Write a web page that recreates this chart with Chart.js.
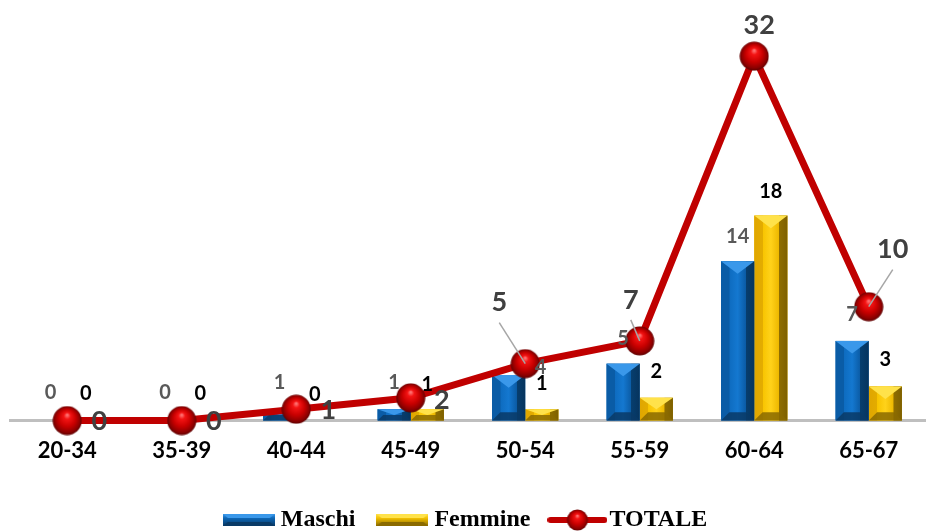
<!DOCTYPE html>
<html><head><meta charset="utf-8">
<script src="https://cdn.jsdelivr.net/npm/chart.js@4"></script>
<style>html,body{margin:0;padding:0;background:#fff;overflow:hidden}</style>
</head><body>
<canvas id="c" width="926" height="532"></canvas>
<script>
// ---- data ----
const categories = ['20-34','35-39','40-44','45-49','50-54','55-59','60-64','65-67'];
const maschi  = [0,0,1,1,4,5,14,7];
const femmine = [0,0,0,1,1,2,18,3];
const totale  = [0,0,1,2,5,7,32,10];
const seriesNames = ['Maschi','Femmine','TOTALE'];

// ---- label placement (offsets in px) ----
const totaleLabelOffset = [[32,1],[32,1],[32,1],[31,2],[-26,-61],[-9,-41],[5,-31],[24,-57]];
const totaleLeader = [false,false,false,false,true,true,false,true];
const maschiLabelOffset = [[0,-28],[0,-28],[0,-27],[0,-27],[32,-7],[0,-25],[0,-25],[0,-26]];
const femmineLabelOffset = [[2,-27],[2,-27],[2,-26],[0,-25],[0,-26],[0,-26],[0,-24],[0,-27]];

const LABEL_FONT = 'Lato, "Open Sans", sans-serif';

const palette = {
  Maschi: {
    base: '#0D66B5',
    stops: [[0,'#0A5CA6'],[0.25,'#0A5CA6'],[0.26,'#0E6CC0'],[0.5,'#1478D0'],[0.74,'#0B5CA6'],[0.75,'#073E6E'],[1,'#06345E']],
    top: '#3A98EA', bottom: '#093A66'
  },
  Femmine: {
    base: '#F2C000',
    stops: [[0,'#E0A600'],[0.25,'#E3AC00'],[0.26,'#F8C400'],[0.5,'#FFD21A'],[0.74,'#EDB800'],[0.75,'#8F6E00'],[1,'#7E6000']],
    top: '#FFE24A', bottom: '#8A6A00'
  }
};

function sphereCanvas(d) {
  const c = document.createElement('canvas');
  c.width = d; c.height = d;
  const g = c.getContext('2d');
  const r = d / 2;
  const grad = g.createRadialGradient(r, r * 0.62, r * 0.05, r, r, r);
  grad.addColorStop(0, '#FF7070');
  grad.addColorStop(0.18, '#F41414');
  grad.addColorStop(0.55, '#C80000');
  grad.addColorStop(0.85, '#8A0000');
  grad.addColorStop(1, '#550000');
  g.fillStyle = grad;
  g.beginPath(); g.arc(r, r, r - 0.5, 0, Math.PI * 2); g.fill();
  return c;
}

function barSwatch(name) {
  const p = palette[name];
  const c = document.createElement('canvas');
  c.width = 52; c.height = 12;
  const g = c.getContext('2d');
  const gr = g.createLinearGradient(0, 0, 0, 12);
  gr.addColorStop(0, p.top); gr.addColorStop(0.35, p.base); gr.addColorStop(1, p.bottom);
  g.fillStyle = gr; g.fillRect(0, 0, 52, 12);
  g.fillStyle = p.top;
  g.beginPath(); g.moveTo(0,0); g.lineTo(52,0); g.lineTo(47,4); g.lineTo(5,4); g.closePath(); g.fill();
  g.fillStyle = p.bottom;
  g.beginPath(); g.moveTo(0,12); g.lineTo(52,12); g.lineTo(47,8); g.lineTo(5,8); g.closePath(); g.fill();
  return c;
}

function totaleSwatch() {
  const c = document.createElement('canvas');
  c.width = 60; c.height = 24;
  const g = c.getContext('2d');
  g.strokeStyle = '#C00000'; g.lineWidth = 6; g.lineCap = 'round';
  g.beginPath(); g.moveTo(3, 12); g.lineTo(57, 12); g.stroke();
  g.drawImage(sphereCanvas(22), 19, 1);
  return c;
}

const pointSphere = sphereCanvas(30);

const bevelPlugin = {
  id: 'bevel',
  afterDatasetDraw(chart, args) {
    const ds = chart.data.datasets[args.index];
    if (args.meta.type !== 'bar') return;
    const p = palette[ds.label];
    const ctx = chart.ctx;
    ctx.save();
    args.meta.data.forEach(el => {
      const h = el.base - el.y;
      if (h < 0.5) return;
      const l = el.x - el.width / 2, r = el.x + el.width / 2, t = el.y, b = el.base, w = el.width;
      const gr = ctx.createLinearGradient(l, 0, r, 0);
      p.stops.forEach(s => gr.addColorStop(s[0], s[1]));
      ctx.fillStyle = gr;
      ctx.fillRect(l, t, w, h);
      const s = Math.min(w * 0.25, h / 2);
      const d = Math.min(w * 0.38, h / 2);
      // bottom bevel (trapezoid)
      ctx.fillStyle = p.bottom;
      ctx.globalAlpha = 0.85;
      ctx.beginPath(); ctx.moveTo(l, b); ctx.lineTo(r, b); ctx.lineTo(r - s, b - s); ctx.lineTo(l + s, b - s); ctx.closePath(); ctx.fill();
      ctx.globalAlpha = 1;
      // top bevel (triangle)
      ctx.fillStyle = p.top;
      ctx.beginPath(); ctx.moveTo(l, t); ctx.lineTo(r, t); ctx.lineTo(el.x, t + d); ctx.closePath(); ctx.fill();
    });
    ctx.restore();
  }
};

const labelPlugin = {
  id: 'valueLabels',
  afterDatasetsDraw(chart) {
    const ctx = chart.ctx;
    ctx.save();
    ctx.textAlign = 'center';
    ctx.textBaseline = 'middle';
    const base = chart.scales.y.getPixelForValue(0);
    const mMeta = chart.getDatasetMeta(0), fMeta = chart.getDatasetMeta(1), tMeta = chart.getDatasetMeta(2);
    ctx.font = 'bold 20px ' + LABEL_FONT;
    ctx.fillStyle = '#595959';
    mMeta.data.forEach((el, i) => {
      const o = maschiLabelOffset[i];
      ctx.fillText(String(maschi[i]), el.x + o[0], Math.min(el.y, base) + o[1]);
    });
    ctx.fillStyle = '#000000';
    fMeta.data.forEach((el, i) => {
      const o = femmineLabelOffset[i];
      ctx.fillText(String(femmine[i]), el.x + o[0], Math.min(el.y, base) + o[1]);
    });
    ctx.font = 'bold 27px ' + LABEL_FONT;
    tMeta.data.forEach((el, i) => {
      const o = totaleLabelOffset[i];
      const lx = el.x + o[0], ly = el.y + o[1];
      if (totaleLeader[i]) {
        ctx.strokeStyle = '#A6A6A6'; ctx.lineWidth = 1.5;
        ctx.beginPath(); ctx.moveTo(lx, ly + 20); ctx.lineTo(el.x, el.y); ctx.stroke();
      }
      ctx.fillStyle = '#404040';
      ctx.fillText(String(totale[i]), lx, ly);
    });
    ctx.restore();
  }
};

const legendStyles = [barSwatch('Maschi'), barSwatch('Femmine'), totaleSwatch()];

new Chart(document.getElementById('c'), {
  type: 'bar',
  data: {
    labels: categories,
    datasets: [
      { label: seriesNames[0], data: maschi, backgroundColor: palette.Maschi.base, order: 2,
        categoryPercentage: 0.58, barPercentage: 1.0 },
      { label: seriesNames[1], data: femmine, backgroundColor: palette.Femmine.base, order: 2,
        categoryPercentage: 0.58, barPercentage: 1.0 },
      { type: 'line', label: seriesNames[2], data: totale, borderColor: '#C00000', borderWidth: 7,
        pointStyle: pointSphere, pointRadius: 15, pointHoverRadius: 15, tension: 0, order: 1,
        backgroundColor: '#C00000', clip: false }
    ]
  },
  options: {
    responsive: false,
    animation: false,
    devicePixelRatio: 1,
    layout: { autoPadding: false, padding: { top: 22, left: 10, right: 0, bottom: -10 } },
    scales: {
      x: {
        grid: { display: false, drawTicks: false },
        border: { display: true, color: '#BFBFBF', width: 3 },
        ticks: { color: '#000', font: { family: LABEL_FONT, size: 22, weight: 'bold' }, padding: 17 }
      },
      y: { display: false, min: 0, max: 35 }
    },
    plugins: {
      tooltip: { enabled: false },
      legend: {
        position: 'bottom',
        labels: {
          usePointStyle: true,
          pointStyleWidth: 40,
          padding: 27,
          color: '#000',
          font: { family: '"Liberation Serif", "Times New Roman", serif', size: 24, weight: 'bold' },
          generateLabels(chart) {
            return chart.data.datasets.map((ds, i) => ({
              text: ds.label, pointStyle: legendStyles[i], datasetIndex: i,
              fillStyle: 'rgba(0,0,0,0)', strokeStyle: 'rgba(0,0,0,0)', lineWidth: 0, hidden: false, fontColor: '#000'
            }));
          }
        }
      }
    }
  },
  plugins: [bevelPlugin, labelPlugin]
});
</script>
</body></html>
